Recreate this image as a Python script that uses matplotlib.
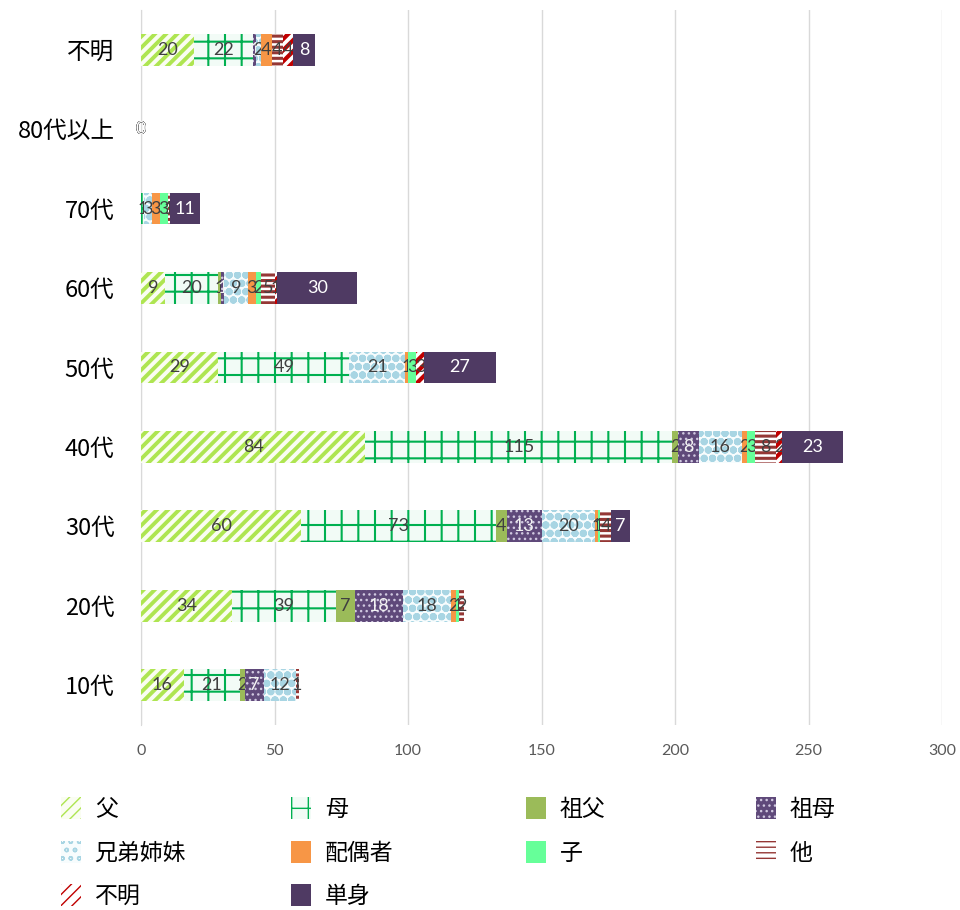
import matplotlib
matplotlib.use("Agg")
import matplotlib.pyplot as plt
import numpy as np

plt.rcParams['font.family'] = ['Noto Sans CJK JP', 'DejaVu Sans']

categories = ["不明", "80代以上", "70代", "60代", "50代", "40代", "30代", "20代", "10代"]
series_names = ["父", "母", "祖父", "祖母", "兄弟姉妹", "配偶者", "子", "他", "不明", "単身"]

father   = [20, 0, 0, 9, 29, 84, 60, 34, 16]
mother   = [22, 0, 1, 20, 49, 115, 73, 39, 21]
gfather  = [0, 0, 0, 1, 0, 2, 4, 7, 2]
gmother  = [1, 0, 0, 1, 0, 8, 13, 18, 7]
siblings = [2, 0, 3, 9, 21, 16, 20, 18, 12]
spouse   = [4, 0, 3, 3, 1, 2, 1, 2, 0]
child    = [0, 0, 3, 2, 3, 3, 1, 1, 0]
other    = [4, 0, 1, 5, 0, 8, 4, 2, 1]
unknown  = [4, 0, 0, 1, 3, 2, 0, 0, 0]
single   = [8, 0, 11, 30, 27, 23, 7, 0, 0]

data = [father, mother, gfather, gmother, siblings, spouse, child, other, unknown, single]

# style: (facecolor, hatchcolor, hatch, hatch linewidth, label color)
styles = [
    ("#FAFDF2", "#AEE551", "///", 2.8, "#404040"),
    ("#F2FBF6", "#00B050", "+", 1.5, "#404040"),
    ("#9BBB59", "#9BBB59", None, 1.0, "#404040"),
    ("#5F497A", "#D0C8E0", "...", 1.0, "#F2F2F2"),
    ("#F7FCFD", "#A8D5E3", "oo", 2.8, "#404040"),
    ("#F79646", "#F79646", None, 1.0, "#404040"),
    ("#66FF99", "#66FF99", None, 1.0, "#404040"),
    ("#FFFFFF", "#953735", "---", 2.2, "#404040"),
    ("#FFFFFF", "#C00000", "///", 3.0, "#404040"),
    ("#4F3A63", "#4F3A63", None, 1.0, "#FFFFFF"),
]

fig = plt.figure(figsize=(9.6, 9.1), dpi=100)
ax = fig.add_axes([141/960, 1-725/910, (942-141)/960, (725-10)/910])

y = np.arange(len(categories))
left = np.zeros(len(categories))
totals = np.sum(np.array(data), axis=0)
handles = []
for i, (vals, name, st) in enumerate(zip(data, series_names, styles)):
    fc, hc, hatch, hlw, lc = st
    plt.rcParams['hatch.linewidth'] = hlw
    vals = np.array(vals, dtype=float)
    bars = ax.barh(y, vals, left=left, height=0.4, color=fc, edgecolor=hc,
                   hatch=hatch, linewidth=0, label=name, zorder=2 + 2*i)
    handles.append(bars)
    labels = []
    for v, t in zip(vals, totals):
        if v > 0:
            labels.append(f"{int(v)}")
        elif t == 0:
            labels.append("0")
        else:
            labels.append("")
    txts = ax.bar_label(bars, labels=labels, label_type='center', color=lc,
                        fontsize=13, family=['Lato', 'DejaVu Sans'])
    for t in txts:
        t.set_zorder(3 + 2*i)
    left += vals

ax.set_xlim(0, 300)
ax.set_ylim(len(categories) - 0.5, -0.5)
ax.set_yticks(y)
ax.set_yticklabels(categories, fontsize=17, color="#000000")
ax.set_xticks(np.arange(0, 301, 50))
ax.tick_params(axis='x', labelsize=11.5, colors="#595959", length=0, pad=14)
ax.tick_params(axis='y', length=0, pad=19)
for lab in ax.get_xticklabels():
    lab.set_family(['Lato', 'DejaVu Sans'])
ax.grid(axis='x', color="#D9D9D9", linewidth=1, zorder=0)
ax.set_axisbelow(True)
for s in ["top", "right", "bottom"]:
    ax.spines[s].set_visible(False)
ax.spines["left"].set_color("#D9D9D9")
ax.spines["left"].set_zorder(1)

col_x = [50, 280, 515, 745]
for j in range(4):
    hs = handles[j::4]
    ns = series_names[j::4]
    leg = fig.legend(hs, ns, loc='upper left', bbox_to_anchor=(col_x[j]/960, 1-786/910),
                     frameon=False, fontsize=16.5, handlelength=0.85, handleheight=1.1,
                     handletextpad=0.6, labelspacing=0.85, borderpad=0)

fig.savefig("out.png", dpi=100)
